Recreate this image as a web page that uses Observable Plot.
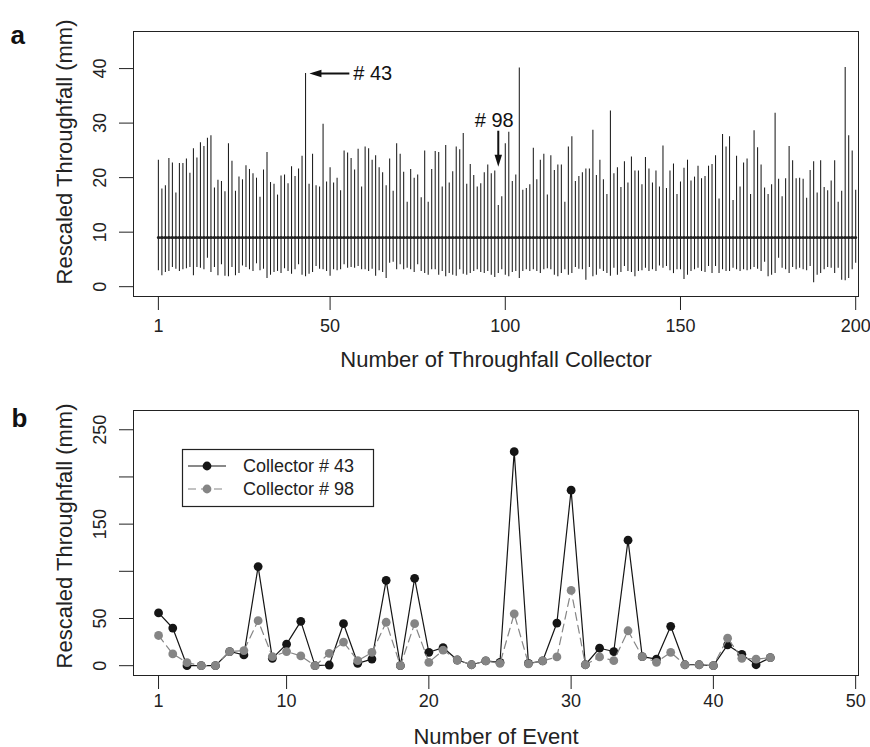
<!DOCTYPE html>
<html><head><meta charset="utf-8">
<script src="https://cdn.jsdelivr.net/npm/d3@7"></script>
<script src="https://cdn.jsdelivr.net/npm/@observablehq/plot@0.6"></script>
<style>
body{margin:0;background:#fff;}
#chart{position:relative;width:870px;height:747px;background:#fff;font-family:"Liberation Sans",Arial,sans-serif;}
#chart > svg{position:absolute;left:0;}
</style></head><body><div id="chart"></div>
<script>
// ---------- Panel a: range of rescaled throughfall per collector ----------
const collectorMax = [
 23.2,17.9,18.5,23.5,22.7,17.2,22.6,22.6,23.4,20.8,25.3,23.6,26.4,25.7,27.2,27.7,18.1,19.5,19.3,17.4,
 26.2,23.0,17.5,20.1,19.6,22.2,21.5,20.7,19.9,16.4,21.4,24.6,19.1,18.8,16.8,20.3,20.5,18.9,22.0,
 20.2,21.6,23.9,39.1,18.8,24.3,18.5,18.3,29.8,19.2,21.8,19.0,19.9,17.6,24.9,24.5,23.5,21.4,25.2,18.3,
 25.6,25.3,23.2,24.0,21.8,20.9,18.5,23.4,17.5,26.2,24.3,21.0,15.5,21.5,19.9,20.5,16.3,24.9,15.5,21.5,
 24.8,24.6,18.3,25.9,19.0,21.1,25.6,25.1,28.1,18.8,22.4,20.4,18.3,18.9,20.9,22.3,20.7,21.2,14.9,16.5,
 26.2,28.3,19.3,20.5,40.1,17.7,18.0,18.7,25.4,19.6,23.2,24.3,16.8,24.0,21.3,22.3,22.3,15.5,25.6,27.5,
 19.3,20.2,20.9,21.6,21.6,28.7,20.4,23.2,19.6,16.9,32.2,20.7,21.8,18.2,22.9,19.0,23.8,21.2,21.2,18.7,
 23.7,21.6,19.0,21.2,18.3,25.8,18.0,21.2,22.5,16.9,19.2,21.7,23.2,19.4,20.1,22.1,19.8,20.2,22.1,22.4,
 24.0,16.1,27.9,25.6,27.5,15.8,23.9,18.3,22.7,23.4,16.9,28.6,25.5,22.3,18.1,16.9,18.7,31.8,19.7,16.5,
 19.8,25.7,23.1,19.8,19.9,19.7,16.2,21.3,22.9,17.2,23.1,18.2,17.6,19.4,23.1,15.5,17.5,40.2,27.7,24.9,17.7
];
const collectorMin = [
 2.9,2.0,2.6,2.8,3.5,3.2,2.8,3.1,3.3,3.5,2.0,3.5,3.4,3.1,5.2,2.6,3.5,2.0,4.0,1.9,
 1.8,3.5,2.0,2.4,3.8,3.5,3.1,2.8,4.2,2.9,3.2,1.5,2.1,2.6,2.8,2.4,3.3,2.8,2.3,
 3.1,4.0,2.1,1.8,2.3,2.6,3.7,3.2,3.1,2.8,1.9,3.1,2.9,3.1,4.0,3.4,3.5,3.4,3.7,3.1,
 3.1,2.8,3.2,1.9,2.9,2.6,1.5,4.3,4.5,3.1,4.0,3.1,3.4,3.1,2.6,4.0,2.8,2.4,2.1,3.1,
 3.1,2.1,2.8,1.8,2.4,2.1,1.9,3.1,2.3,2.1,2.4,2.8,3.1,2.6,2.4,2.8,2.1,1.7,2.4,3.1,
 2.1,1.8,2.6,2.8,1.5,2.8,3.1,2.8,3.1,2.8,2.4,3.1,3.3,3.1,2.1,1.8,2.4,3.1,2.1,2.4,
 3.5,3.2,3.1,1.2,3.5,1.8,2.1,3.2,2.8,2.4,1.9,3.4,2.1,2.6,3.7,2.8,2.6,1.8,2.8,2.9,
 3.4,2.8,3.1,2.8,3.8,3.4,3.7,2.9,2.4,3.1,3.1,1.3,2.1,2.8,3.1,3.4,2.8,2.6,3.7,2.4,
 3.7,2.4,3.1,2.8,2.8,3.4,3.1,2.8,3.1,2.9,3.1,3.5,3.2,2.8,4.5,1.8,2.1,2.4,5.2,3.4,
 3.1,2.4,3.5,3.1,3.4,3.1,2.9,3.7,0.7,2.1,2.4,3.1,3.5,3.4,2.4,3.4,1.2,1.1,1.5,3.1,4.3
];
const collectorMean = 9.0;
const collectorTicks = [1, 50, 100, 150, 200];
const throughfallTicksA = [0, 10, 20, 30, 40];
const highlightedCollectors = [
  {label: "# 43", collector: 43, direction: "left"},
  {label: "# 98", collector: 98, direction: "down"}
];

// ---------- Panel b: rescaled throughfall per event ----------
const events = d3.range(1, 45);
const collector43 = [55.9,39.9,0,0,0,15,11.4,105,7.8,22.8,47,0,0.7,44.5,2.5,7,90.5,0,92.6,14.2,
  19.2,6,1,5,3.6,226.8,2.5,5,45.2,186,1,18.5,15,133,9.6,7,41.7,1,1,0,22,12,1,8.5];
const collector98 = [32,12.5,3.2,0,0,15,16,47.7,9.6,15,10.3,0,13,25,5.3,14,46,0,44.5,3.6,
  16.4,6,1,5,2.5,55,2,5,9.3,79.8,1,9.3,5.3,37,9.6,3.6,14.2,1,1,0,29.2,7.8,7,8.5];
const eventTicks = [1, 10, 20, 30, 40, 50];
const throughfallTicksB = [0, 50, 100, 150, 200, 250];
const throughfallLabelsB = [0, 50, 150, 250];
const seriesNames = ["Collector # 43", "Collector # 98"];

// ---------- build ----------
const FONT = '"Liberation Sans", Arial, Helvetica, sans-serif';
const INK = "#222";
const collectors = d3.range(1, collectorMax.length + 1);
const collectorData = collectors.map((c, i) => ({collector: c, min: collectorMin[i], max: collectorMax[i]}));

// arrowhead symbols (tip at origin)
const headLeft = {draw(ctx, size) { const r = Math.sqrt(size / Math.PI);
  ctx.moveTo(0, 0); ctx.lineTo(2.4 * r, -0.75 * r); ctx.lineTo(2.4 * r, 0.75 * r); ctx.closePath(); }};
const headDown = {draw(ctx, size) { const r = Math.sqrt(size / Math.PI);
  ctx.moveTo(0, 0); ctx.lineTo(-0.75 * r, -2.4 * r); ctx.lineTo(0.75 * r, -2.4 * r); ctx.closePath(); }};

const maxOf = c => collectorMax[c - 1];
const annLeft = highlightedCollectors.filter(d => d.direction === "left");
const annDown = highlightedCollectors.filter(d => d.direction === "down");

const panelA = Plot.plot({
  width: 870, height: 375,
  marginTop: 31, marginBottom: 79, marginLeft: 133, marginRight: 12,
  style: {fontFamily: FONT, fontSize: "18px", color: INK, background: "transparent", overflow: "visible"},
  x: {domain: [-6.1, 200.8]},
  y: {domain: [-1.8, 46.8]},
  marks: [
    Plot.frame({stroke: INK}),
    Plot.ruleX(collectorData, {x: "collector", y1: "min", y2: "max", stroke: "#1c1c1c", strokeWidth: 1.05}),
    Plot.ruleY([collectorMean], {x1: collectors[0], x2: collectors[collectors.length - 1], stroke: INK, strokeWidth: 2.2}),
    Plot.dot(collectors, {x: d => d, y: collectorMean, r: 1.5, fill: INK, stroke: "none"}),
    Plot.axisX(collectorTicks, {tickSize: 14, tickPadding: 9, fontSize: 18, stroke: INK, label: null}),
    Plot.axisY(throughfallTicksA, {tickSize: 14, tickFormat: () => "", stroke: INK, label: null}),
    Plot.text(throughfallTicksA, {y: d => d, text: d => String(d), frameAnchor: "left", textAnchor: "middle", dx: -33, rotate: -90, fontSize: 18, fill: INK}),
    Plot.text(["Number of Throughfall Collector"], {text: d => d, frameAnchor: "bottom", dy: 70, fontSize: 22, fill: INK}),
    Plot.text(["Rescaled Throughfall (mm)"], {text: d => d, frameAnchor: "left", textAnchor: "middle", dx: -69, dy: -12, rotate: -90, fontSize: 22, fill: INK}),
    Plot.text(["a"], {text: d => d, frameAnchor: "top-left", dx: -123, dy: -6, textAnchor: "start", fontWeight: "bold", fontSize: 26, fill: "#111"}),
    // annotation # 43 (horizontal arrow pointing left)
    Plot.link(annLeft, {x1: d => d.collector + 12.5, x2: d => d.collector + 3, y1: d => maxOf(d.collector), y2: d => maxOf(d.collector), stroke: "#111", strokeWidth: 2}),
    Plot.dot(annLeft, {x: d => d.collector + 1.1, y: d => maxOf(d.collector), symbol: headLeft, r: 5, fill: "#111", stroke: "none"}),
    Plot.text(annLeft, {x: d => d.collector + 13.6, y: d => maxOf(d.collector), text: "label", textAnchor: "start", fontSize: 20, fill: "#111"}),
    // annotation # 98 (vertical arrow pointing down)
    Plot.link(annDown, {x1: "collector", x2: "collector", y1: d => maxOf(d.collector) + 13.7, y2: d => maxOf(d.collector) + 9, stroke: "#111", strokeWidth: 2}),
    Plot.dot(annDown, {x: "collector", y: d => maxOf(d.collector) + 7.1, symbol: headDown, r: 5, fill: "#111", stroke: "none"}),
    Plot.text(annDown, {x: "collector", y: d => maxOf(d.collector) + 15.6, dx: -4, text: "label", fontSize: 20, fill: "#111"})
  ]
});
panelA.style.top = "0px";

const eventData = events.map((e, i) => ({event: e, c43: collector43[i], c98: collector98[i]}));
const BLACK = "#151515", GREY = "#858585";

const panelB = Plot.plot({
  width: 870, height: 372,
  marginTop: 35, marginBottom: 72, marginLeft: 133, marginRight: 12,
  style: {fontFamily: FONT, fontSize: "18px", color: INK, background: "transparent", overflow: "visible"},
  x: {domain: [-0.76, 50.2]},
  y: {domain: [-10.4, 270.4]},
  marks: [
    Plot.frame({stroke: INK}),
    Plot.lineY(eventData, {x: "event", y: "c43", stroke: BLACK, strokeWidth: 1.2}),
    Plot.dot(eventData, {x: "event", y: "c43", r: 4.4, fill: BLACK, stroke: "none"}),
    Plot.lineY(eventData, {x: "event", y: "c98", stroke: GREY, strokeWidth: 1.2, strokeDasharray: "8,5"}),
    Plot.dot(eventData, {x: "event", y: "c98", r: 4.4, fill: GREY, stroke: "none"}),
    Plot.axisX(eventTicks, {tickSize: 14, tickPadding: 5, fontSize: 18, stroke: INK, label: null}),
    Plot.axisY(throughfallTicksB, {tickSize: 14, tickFormat: () => "", stroke: INK, label: null}),
    Plot.text(throughfallLabelsB, {y: d => d, text: d => String(d), frameAnchor: "left", textAnchor: "middle", dx: -33, rotate: -90, fontSize: 18, fill: INK}),
    Plot.text(["Number of Event"], {text: d => d, frameAnchor: "bottom", dy: 68, fontSize: 22, fill: INK}),
    Plot.text(["Rescaled Throughfall (mm)"], {text: d => d, frameAnchor: "left", textAnchor: "middle", dx: -69, dy: -7, rotate: -90, fontSize: 22, fill: INK}),
    Plot.text(["b"], {text: d => d, frameAnchor: "top-left", dx: -122, dy: -2, textAnchor: "start", fontWeight: "bold", fontSize: 26, fill: "#111"})
  ]
});
panelB.style.top = "375px";

const chart = document.getElementById("chart");
chart.appendChild(panelA);
chart.appendChild(panelB);

// legend (panel b)
const legend = d3.select(chart).append("svg")
  .attr("width", 194).attr("height", 60)
  .style("position", "absolute").style("left", "181px").style("top", "448px")
  .style("font-family", FONT);
legend.append("rect").attr("x", 1.5).attr("y", 1.5).attr("width", 191).attr("height", 57)
  .attr("fill", "#fff").attr("stroke", INK).attr("stroke-width", 1.2);
const legendStyles = [
  {color: BLACK, dash: null},
  {color: GREY, dash: "8,5"}
];
seriesNames.forEach((name, i) => {
  const y = 18 + i * 23;
  const st = legendStyles[i];
  legend.append("line").attr("x1", 7).attr("x2", 45).attr("y1", y).attr("y2", y)
    .attr("stroke", st.color).attr("stroke-width", 1.2).attr("stroke-dasharray", st.dash);
  legend.append("circle").attr("cx", 26).attr("cy", y).attr("r", 4.4).attr("fill", st.color);
  legend.append("text").attr("x", 62).attr("y", y).attr("dy", "0.35em")
    .attr("font-size", 18).attr("fill", INK).text(name);
});
</script></body></html>
